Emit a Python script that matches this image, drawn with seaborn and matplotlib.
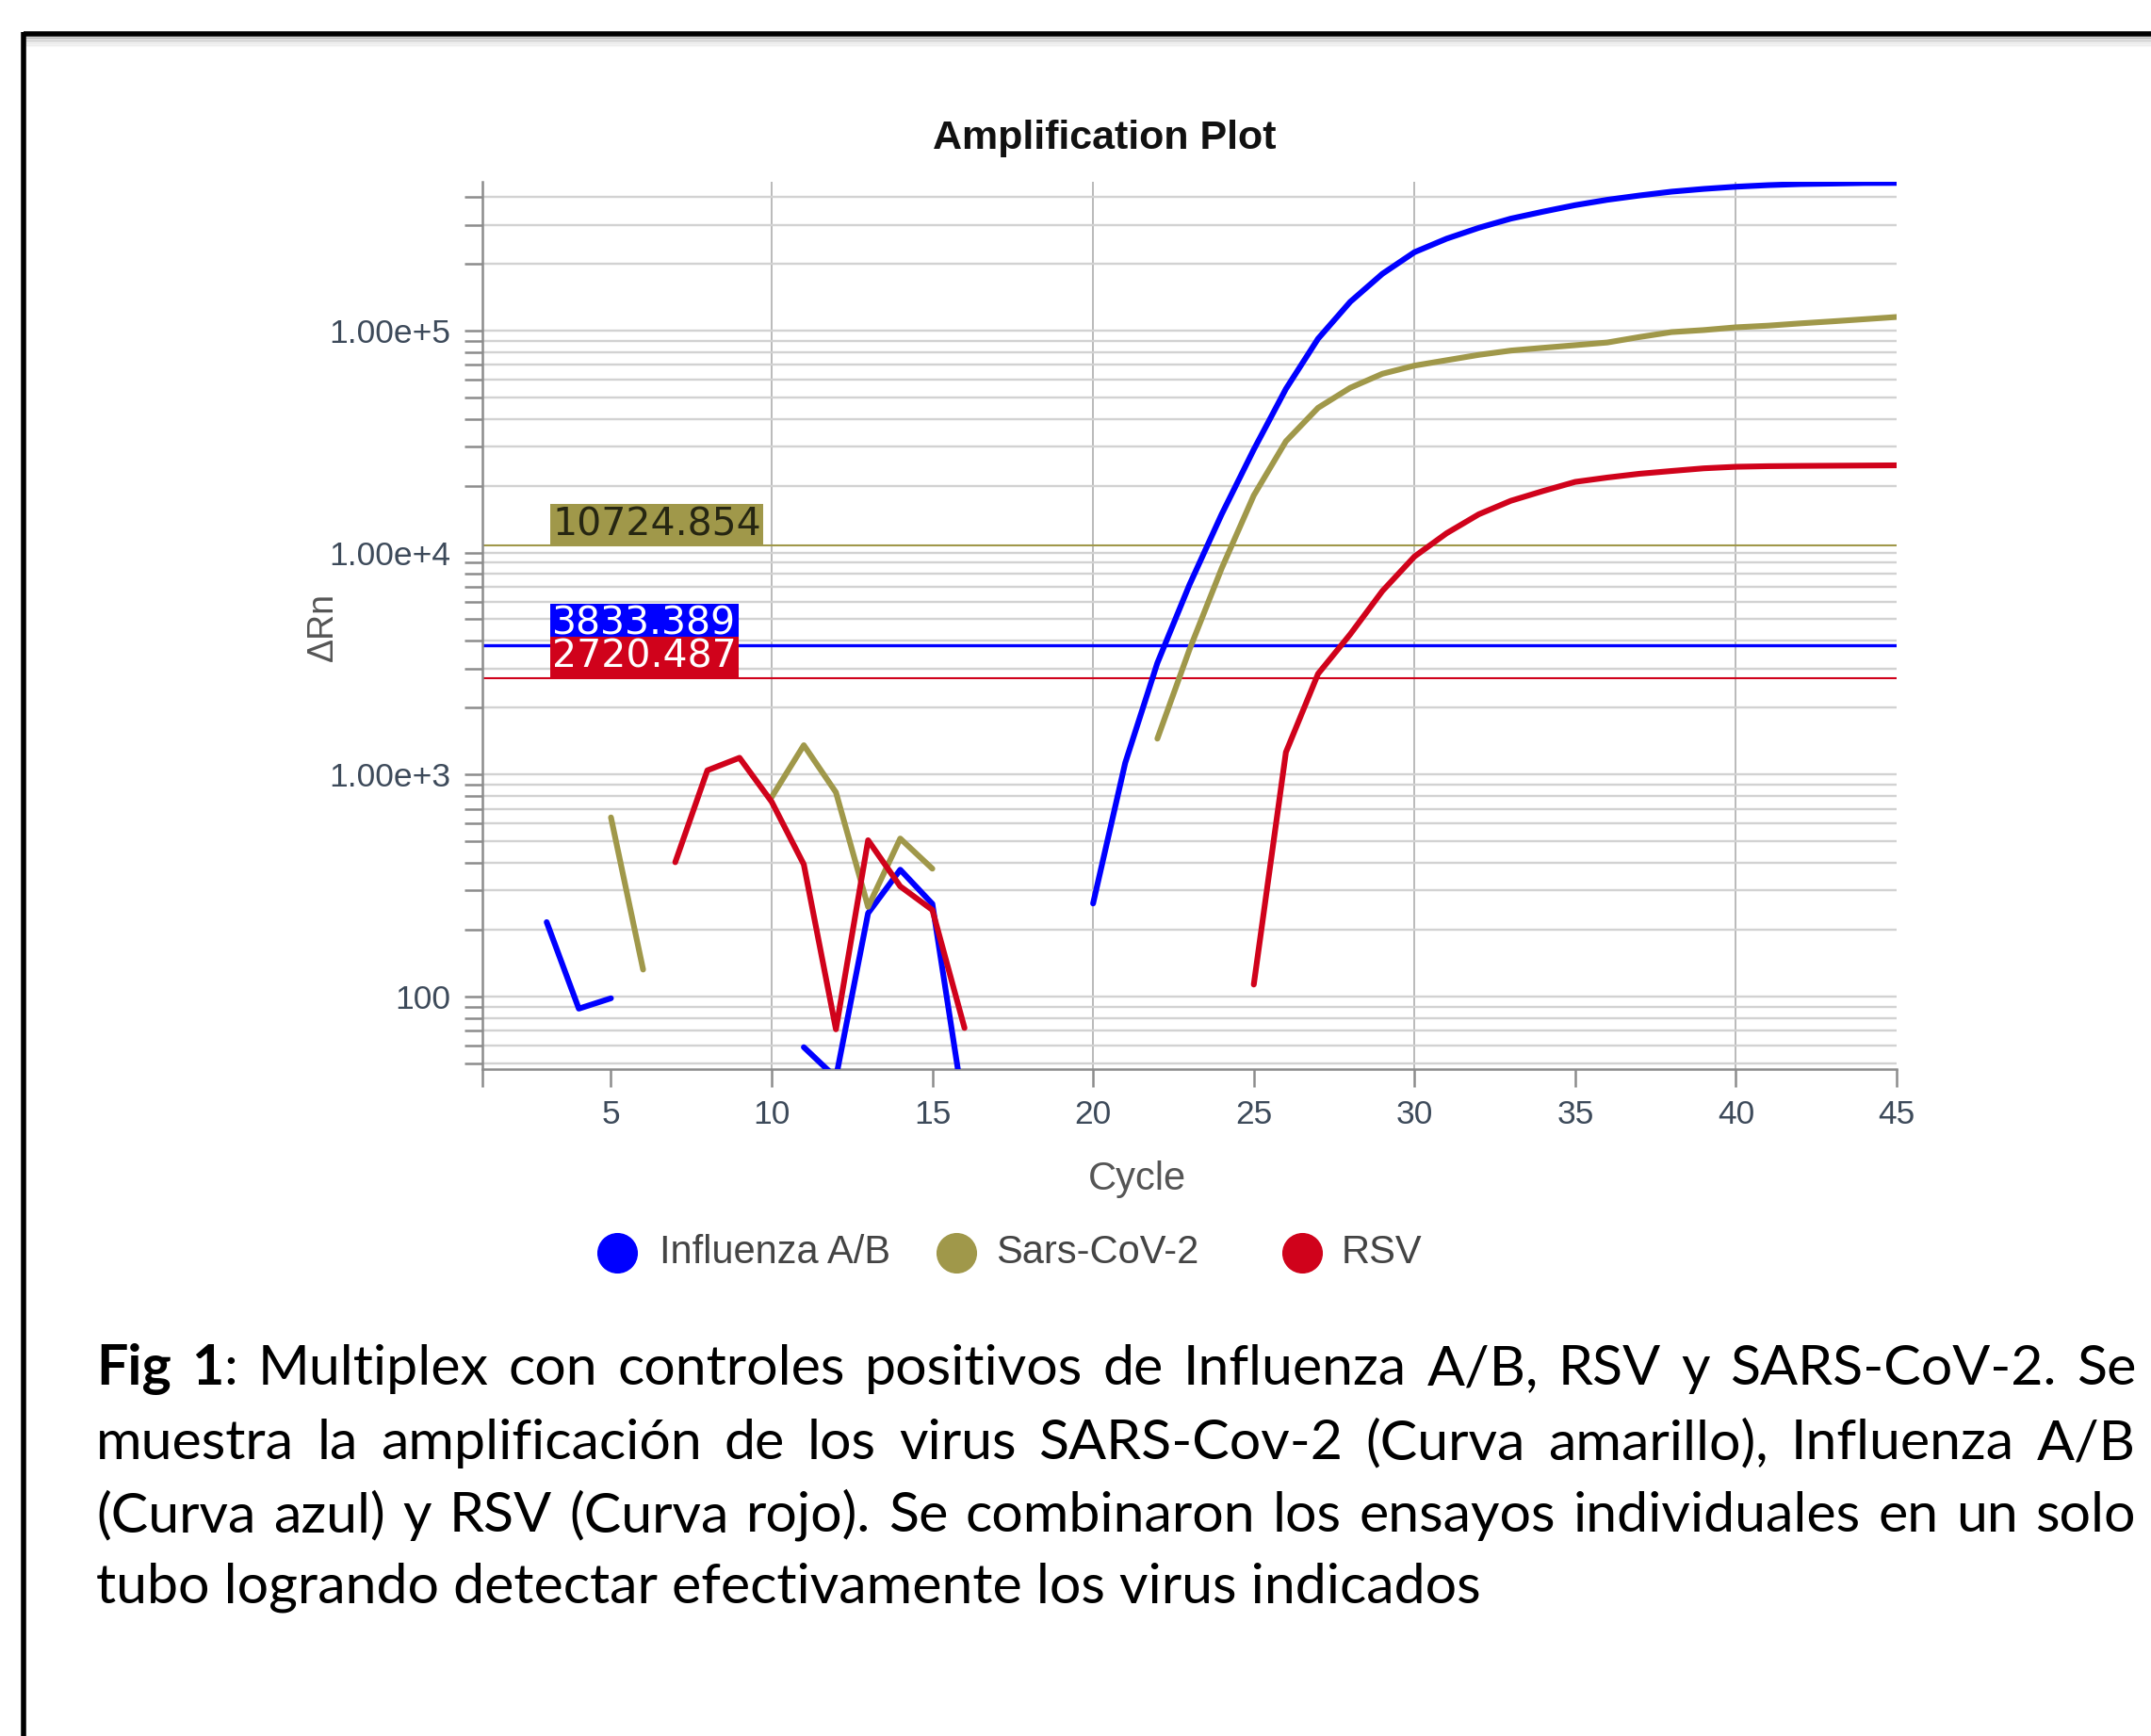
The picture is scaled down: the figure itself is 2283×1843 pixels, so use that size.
import numpy as np
import pandas as pd
import matplotlib.pyplot as plt
import matplotlib.ticker as mticker
from matplotlib.lines import Line2D
import seaborn as sns

# --- data (NaN = no point drawn) ---
cycles = np.arange(1, 46)
nan = np.nan
influenza = [nan, nan, 216, 88, 98, nan, nan, nan, nan, nan,
             59, 43, 237, 372, 261, 30, nan, nan, nan, 262,
             1127, 3177, 7160, 14860, 29100, 54600, 91900, 134700, 180100, 225500,
             259400, 290300, 319400, 343300, 367300, 388300, 406000, 422500, 434700, 444700,
             452000, 457000, 459400, 462000, 462500]
sars = [nan, nan, nan, nan, 640, 132, nan, nan, nan, 790,
        1354, 830, 253, 514, 376, nan, nan, nan, nan, nan,
        nan, 1449, 3656, 8477, 18080, 31700, 44850, 55200, 63850, 69500,
        73500, 77700, 81240, 83600, 85900, 88330, 93500, 98400, 100500, 103400,
        105200, 107700, 110000, 112500, 115100]
rsv = [nan, nan, nan, nan, nan, nan, 402, 1043, 1188, 753,
       393, 71, 505, 313, 245, 72, nan, nan, nan, nan,
       nan, nan, nan, nan, 113, 1259, 2840, 4280, 6700, 9590,
       12210, 14860, 17100, 18920, 20800, 21760, 22630, 23290, 23940, 24330,
       24480, 24550, 24600, 24650, 24700]

targets = ['Influenza A/B', 'Sars-CoV-2', 'RSV']
colors = ['#0000ff', '#a0984a', '#d0021b']
thresholds = [3833.389, 10724.854, 2720.487]
x_ticks = [5, 10, 15, 20, 25, 30, 35, 40, 45]
y_major = [100, 1e3, 1e4, 1e5]
y_labels = ['100', '1.00e+3', '1.00e+4', '1.00e+5']

caption_lines = [
    'Fig 1: Multiplex con controles positivos de Influenza A/B, RSV y SARS-CoV-2. Se',
    'muestra la amplificación de los virus SARS-Cov-2 (Curva amarillo), Influenza A/B',
    '(Curva azul) y RSV (Curva rojo). Se combinaron los ensayos individuales en un solo',
    'tubo logrando detectar efectivamente los virus indicados',
]

# long format, one unit per unbroken run of points
frames = []
for name, vals in zip(targets, [influenza, sars, rsv]):
    s = pd.Series(vals, dtype=float)
    seg = s.isna().cumsum()
    d = pd.DataFrame({'cycle': cycles, 'drn': s, 'target': name,
                      'segment': name + '_' + seg.astype(str)})
    frames.append(d.dropna())
df = pd.concat(frames, ignore_index=True)

sns.set_theme(style='white')
plt.rcParams['font.family'] = ['Liberation Sans', 'DejaVu Sans']

W, H = 2283, 1843
fig = plt.figure(figsize=(W / 100, H / 100), dpi=100)
fig.patch.set_facecolor('white')
ax = fig.add_axes([512 / W, 1 - 1135 / H, (2013 - 512) / W, (1135 - 193) / H])

ax.set_yscale('log')
ax.set_xlim(1, 45)
ax.set_ylim(47, 4.68e5)

# grid
ax.yaxis.grid(True, which='both', color='#d2d2d2', lw=1.7, zorder=0)
for gx in [10, 20, 30, 40]:
    ax.axvline(gx, color='#b4b4b4', lw=1.3, zorder=0.5)

# threshold lines
for thr, c, lw in zip(thresholds, colors, [2.4, 1.5, 1.5]):
    ax.axhline(thr, color=c, lw=lw, zorder=2)

sns.lineplot(data=df, x='cycle', y='drn', hue='target', units='segment',
             estimator=None, palette=dict(zip(targets, colors)),
             linewidth=4.4, legend=False, ax=ax, zorder=3)

# threshold value boxes (red drawn last so it covers the blue one)
label_txt = ['white', '#262612', 'white']
for i in [1, 0, 2]:
    ax.annotate(f'{thresholds[i]:.3f}', xy=(3.12, thresholds[i]), xytext=(1.5, 1.5),
                textcoords='offset points', ha='left', va='bottom',
                fontsize=29.5, family='DejaVu Sans', color=label_txt[i],
                bbox=dict(boxstyle='square,pad=0.05', fc=colors[i], ec='none'),
                zorder=5 + i)

# axes styling
for side in ['top', 'right']:
    ax.spines[side].set_visible(False)
for side in ['left', 'bottom']:
    ax.spines[side].set_color('#8c8c8c')
    ax.spines[side].set_linewidth(1.8)
ax.set_xticks(x_ticks)
ax.set_xticks([1], minor=True)
ax.yaxis.set_major_locator(mticker.FixedLocator(y_major))
ax.yaxis.set_major_formatter(mticker.FixedFormatter(y_labels))
ax.yaxis.set_minor_locator(mticker.LogLocator(base=10, subs=np.arange(2, 10)))
ax.yaxis.set_minor_formatter(mticker.NullFormatter())
ax.tick_params(axis='both', which='both', direction='out', length=14, width=1.8,
               color='#8c8c8c', labelcolor='#3d4a5a', labelsize=25.5)
ax.tick_params(axis='y', which='both', pad=10, left=True)
ax.tick_params(axis='x', which='both', pad=9, bottom=True)
ax.set_xlabel('')
ax.set_ylabel('')

fig.text(1172 / W, 1 - 147 / H, 'Amplification Plot', ha='center', va='center',
         fontsize=31, fontweight='bold', color='#111111')
fig.text(343 / W, 1 - 665 / H, 'ΔRn', rotation=90, ha='center', va='center',
         fontsize=27, color='#555555')
fig.text(1207 / W, 1 - 1252 / H, 'Cycle', ha='center', va='center',
         fontsize=30, color='#555555')

# legend
for (mx, tx), name, c in zip([(655, 700), (1015, 1057), (1382, 1424)], targets, colors):
    fig.add_artist(Line2D([mx / W], [1 - 1330 / H], marker='o', markersize=30,
                          color=c, transform=fig.transFigure))
    fig.text(tx / W, 1 - 1330 / H, name, ha='left', va='center',
             fontsize=30, color='#444444')

# border box (runs off the right and bottom edges)
fig.add_artist(Line2D([25 / W, 1.0], [1 - 36 / H] * 2, color='black', lw=4,
                      transform=fig.transFigure, solid_capstyle='butt'))
fig.add_artist(Line2D([25 / W] * 2, [0, 1 - 34 / H], color='black', lw=4,
                      transform=fig.transFigure, solid_capstyle='butt'))
for k in range(1, 8):
    yy = 1 - (38 + 1.6 * k) / H
    fig.add_artist(Line2D([28 / W, 1.0], [yy, yy], color='#000000', lw=1.2,
                          alpha=0.22 * (1 - k / 8), transform=fig.transFigure))

# caption, justified like the source document
cap_font = 'Lato'
fig.canvas.draw()
renderer = fig.canvas.get_renderer()


def text_width(s, size, weight='normal'):
    t = fig.text(0, 0, s, fontsize=size, fontweight=weight, family=cap_font)
    w = t.get_window_extent(renderer).width
    t.remove()
    return w


x0, x1 = 102, 2267
cap_size = 40 * 1472 / text_width(caption_lines[3], 40)
baselines = [1470, 1549, 1626, 1702]

for li, (line, by) in enumerate(zip(caption_lines, baselines)):
    yb = 1 - by / H
    if li == len(caption_lines) - 1:
        fig.text(x0 / W, yb, line, fontsize=cap_size, family=cap_font,
                 ha='left', va='baseline', color='black')
        continue
    words = line.split(' ')
    tokens = []
    for wi, w in enumerate(words):
        if li == 0 and wi == 0:
            tokens.append([('Fig', 'bold')])
        elif li == 0 and wi == 1:
            tokens.append([('1', 'bold'), (':', 'normal')])
        else:
            tokens.append([(w, 'normal')])
    widths = [sum(text_width(t, cap_size, wt) for t, wt in tok) for tok in tokens]
    gap = (x1 - x0 - sum(widths)) / (len(tokens) - 1)
    x = x0
    for tok in tokens:
        for t, wt in tok:
            fig.text(x / W, yb, t, fontsize=cap_size, fontweight=wt, family=cap_font,
                     ha='left', va='baseline', color='black')
            x += text_width(t, cap_size, wt)
        x += gap

fig.savefig('out.png', dpi=100, facecolor='white')
